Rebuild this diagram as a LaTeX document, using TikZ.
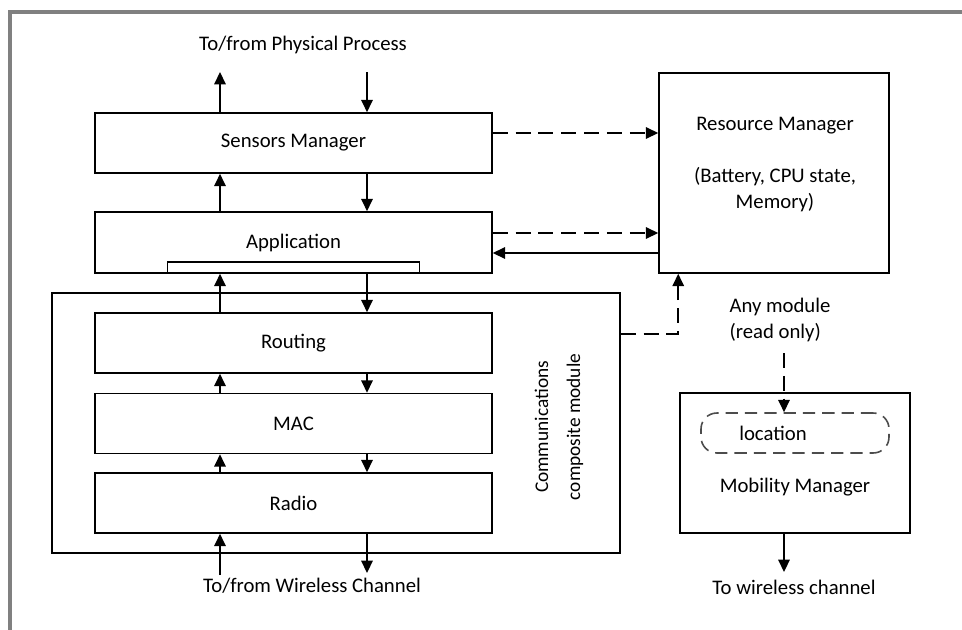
\documentclass[tikz,border=0pt]{standalone}
\usepackage{fontspec}
\setmainfont{Carlito}
\usetikzlibrary{arrows.meta}

\begin{document}
\begin{tikzpicture}[
        x=0.02cm, y=-0.02cm,
        font=\fontsize{11.8}{14.7}\selectfont,
        every node/.style={inner sep=0pt},
        module/.style={rectangle, draw, line width=0.9pt, minimum width=7.94cm, minimum height=1.2cm},
        manager/.style={rectangle, draw, line width=0.9pt, minimum width=4.6cm},
        arr/.style={-{Triangle[length=7pt, width=6.5pt]}, line width=0.9pt},
        dasharr/.style={arr, dash pattern=on 8.5pt off 4.5pt}
    ]
        \useasboundingbox (0,0) rectangle (962,629);
        % outer frame
        \draw[black!50, line width=1.8pt] (10,640) -- (10,12) -- (975,12);

        % Node stack
        \node[module] (sensors) at (293.5,143) {Sensors Manager};
        \node[module, minimum height=1.22cm] (app) at (293.5,242.5) {Application};
        \node[draw, line width=0.9pt, minimum width=5.04cm, minimum height=0.22cm, anchor=south] (appport) at (app.south) {};
        \node[draw, line width=0.9pt, minimum width=11.36cm, minimum height=5.2cm] (comm) at (336,423) {};
        \node[module] (routing) at (293.5,343) {Routing};
        \node[module] (mac) at (293.5,423.5) {MAC};
        \node[module] (radio) at (293.5,503) {Radio};
        \node[rotate=90, align=center, font=\fontsize{11}{14.7}\selectfont] (commlabel) at (559,427) {Communications\\[3.4pt]composite module};

        % Managers
        \node[manager, minimum height=4cm] (rm) at (774,173) {};
        \node[align=center] (rmtext) at (775,164.5) {Resource Manager\\[14.7pt](Battery, CPU state,\\Memory)};
        \node[manager, minimum height=2.8cm] (mob) at (795,463) {};
        \node (mobtext) at (795,487) {Mobility Manager};
        \node[draw, black!70, line width=0.9pt, dash pattern=on 7pt off 4pt, rounded corners=9pt,
              minimum width=3.76cm, minimum height=0.8cm] (loc) at (795,433) {};
        \node (loctext) at (773,433) {location};

        % Labels
        \node (phys) at (303,45) {To/from Physical Process};
        \node (wireless) at (312,586) {To/from Wireless Channel};
        \node[align=left] (anymod) at (780,320) {Any module\\(read only)};
        \node (towl) at (794,587) {To wireless channel};

        \coordinate (upx) at (220,0);
        \coordinate (downx) at (367,0);
        \coordinate (physout) at (220,72);
        \coordinate (physin) at (367,72);
        \coordinate (wlin) at (220,575);
        \coordinate (wlout) at (367,573);
        \coordinate (anyend) at (784,353);
        \coordinate (mobout) at (784,572);

        % up and down the stack
        \draw[arr] (sensors.north -| physout) -- (physout);
        \draw[arr] (physin) -- (physin |- sensors.north);
        \draw[arr] (app.north -| upx) -- (sensors.south -| upx);
        \draw[arr] (sensors.south -| downx) -- (app.north -| downx);
        \draw[arr] (routing.north -| upx) -- (app.south -| upx);
        \draw[arr] (app.south -| downx) -- (routing.north -| downx);
        \draw[arr] (mac.north -| upx) -- (routing.south -| upx);
        \draw[arr] (routing.south -| downx) -- (mac.north -| downx);
        \draw[arr] (radio.north -| upx) -- (mac.south -| upx);
        \draw[arr] (mac.south -| downx) -- (radio.north -| downx);
        \draw[arr] (wlin) -- (wlin |- radio.south);
        \draw[arr] (radio.south -| wlout) -- (wlout);

        % to the resource manager
        \draw[dasharr] ([yshift=2mm]sensors.east) coordinate (s1) -- (s1 -| rm.west);
        \draw[dasharr] ([yshift=1.9mm]app.east) coordinate (a1) -- (a1 -| rm.west);
        \coordinate (a2) at ([yshift=-2.1mm]app.east);
        \draw[arr] (a2 -| rm.west) -- (a2);
        \draw[dasharr] ([yshift=1.78cm]comm.east) -| ([xshift=4mm]rm.south west);

        % mobility
        \draw[dasharr] (anyend) -- (anyend |- loc.north);
        \draw[arr] (mob.south -| mobout) -- (mobout);
\end{tikzpicture}
\end{document}
